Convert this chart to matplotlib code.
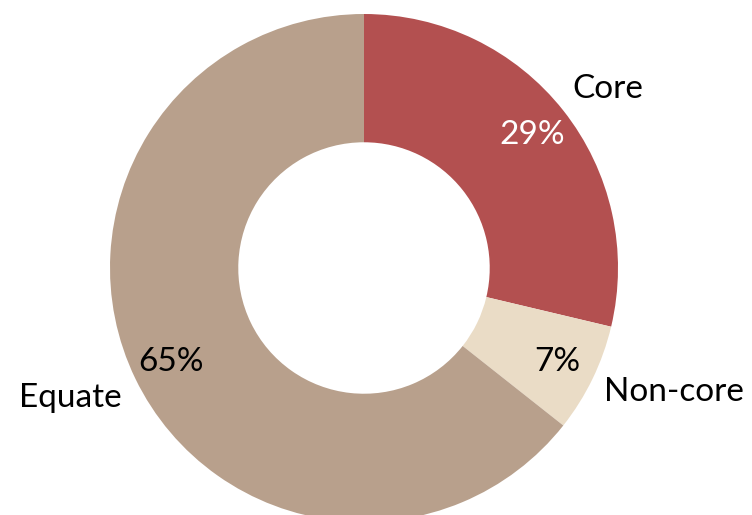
import numpy as np
import matplotlib.pyplot as plt

# 数据
labels = ['Core', 'Non-core', 'Equate']
values = [29, 7, 65]
pct_text = ['29%', '7%', '65%']
colors = ['#B35050', '#EADCC6', '#B8A08C']
pct_colors = ['white', 'black', 'black']

plt.rcParams['font.family'] = ['Lato', 'DejaVu Sans']

fig = plt.figure(figsize=(7.52, 5.15), dpi=100)
ax = fig.add_axes([110 / 752, -7 / 515, 508 / 752, 508 / 515])

wedges, _ = ax.pie(values, colors=colors, startangle=90, counterclock=False,
                   radius=1, wedgeprops=dict(width=0.505, linewidth=0))

# 标签离圆心的距离和角度微调
label_dist = [1.19, 1.315, 1.265]
label_shift = [-2.0, 4.0, -2.0]
pct_dist = 0.845
for i, w in enumerate(wedges):
    mid = (w.theta1 + w.theta2) / 2
    a1 = np.deg2rad(mid + label_shift[i])
    ax.text(label_dist[i] * np.cos(a1), label_dist[i] * np.sin(a1), labels[i],
            ha='center', va='center', fontsize=24, color='black')
    a2 = np.deg2rad(mid)
    ax.text(pct_dist * np.cos(a2), pct_dist * np.sin(a2), pct_text[i],
            ha='center', va='center', fontsize=24, color=pct_colors[i])

ax.set_xlim(-1, 1)
ax.set_ylim(-1, 1)
ax.set_aspect('equal')
ax.axis('off')

fig.savefig('out.png', dpi=100)
